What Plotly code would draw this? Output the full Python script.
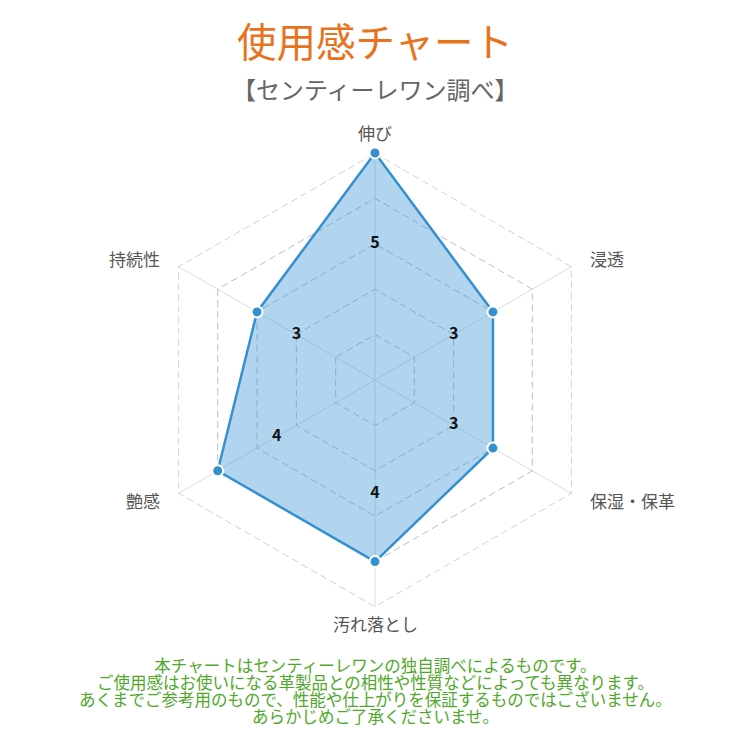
import math
import plotly.graph_objects as go

# 使用感チャート (radar)
categories = ["伸び", "浸透", "保湿・保革", "汚れ落とし", "艶感", "持続性"]
values = [5, 3, 3, 4, 4, 3]
levels = [1, 2, 3, 4, 5]

title_text = "使用感チャート"
subtitle_text = "【センティーレワン調べ】"
footer_lines = [
    "本チャートはセンティーレワンの独自調べによるものです。",
    "ご使用感はお使いになる革製品との相性や性質などによっても異なります。",
    "あくまでご参考用のもので、性能や仕上がりを保証するものではございません。",
    "あらかじめご了承くださいませ。",
]

jp_font = "Noto Sans CJK JP"
W = 750.0
cx, cy, rad = 367, 372, 227   # polar centre / radius in px (page has 8px body offset)

theta = categories + categories[:1]
r = values + values[:1]

fig = go.Figure()
# outer dashed hexagon (plotly skips the gridline at the range edge)
fig.add_trace(go.Scatterpolar(
    r=[levels[-1]] * len(theta), theta=theta, mode="lines",
    line=dict(color="#bdbdbd", width=1.3, dash="7px,4px"),
    cliponaxis=False, hoverinfo="skip", showlegend=False,
))
fig.add_trace(go.Scatterpolar(
    r=r, theta=theta, mode="lines", fill="toself",
    fillcolor="rgba(60,150,215,0.40)",
    line=dict(color="#3590d0", width=2.5),
    hoverinfo="skip", showlegend=False,
))
fig.add_trace(go.Scatterpolar(
    r=values, theta=categories, mode="markers",
    marker=dict(size=11, color="#3590d0", line=dict(color="white", width=2)),
    cliponaxis=False, showlegend=False,
))
# value labels placed part-way along each spoke
fig.add_trace(go.Scatterpolar(
    r=[(v + 1) / 2 for v in values], theta=categories, mode="text",
    text=[str(v) for v in values],
    textfont=dict(size=16, color="#111111", family=jp_font, weight=600),
    hoverinfo="skip", showlegend=False,
))

# axis labels around the hexagon
annos = []
n = len(categories)
for i, name in enumerate(categories):
    ang = math.radians(90 - 360 * i / n)
    vx = cx + rad * math.cos(ang)
    vy = cy - rad * math.sin(ang)
    if abs(math.cos(ang)) < 0.01:
        x, y, xa = vx, vy + (-20 if math.sin(ang) > 0 else 16), "center"
    else:
        x = vx + (16 if math.cos(ang) > 0 else -16)
        y = vy + (-8 if math.sin(ang) > 0 else 7)
        xa = "left" if math.cos(ang) > 0 else "right"
    annos.append(dict(text=name, x=x / W, y=1 - y / W, xref="paper", yref="paper",
                      xanchor=xa, yanchor="middle", showarrow=False,
                      font=dict(size=17, color="#555555", family=jp_font)))

# footer: small base size keeps line spacing tight, spans enlarge the glyphs
footer_html = "<br>".join('<span style="font-size:16.5px">%s</span>' % s for s in footer_lines)

annos += [
    dict(text=title_text, x=cx / W, y=1 - 32 / W, xref="paper", yref="paper",
         xanchor="center", yanchor="middle", showarrow=False,
         font=dict(size=39.5, color="#e8731e", family=jp_font)),
    dict(text=subtitle_text, x=cx / W, y=1 - 80 / W, xref="paper", yref="paper",
         xanchor="center", yanchor="middle", showarrow=False,
         font=dict(size=24, color="#666666", family=jp_font)),
    dict(text=footer_html, x=cx / W, y=1 - 682 / W, xref="paper", yref="paper",
         xanchor="center", yanchor="middle", showarrow=False, align="center",
         font=dict(size=13, color="#4fa82a", family=jp_font)),
]

fig.update_layout(
    width=750, height=750,
    margin=dict(l=0, r=0, t=0, b=0),
    paper_bgcolor="white",
    font=dict(family=jp_font),
    polar=dict(
        domain=dict(x=[(cx - rad) / W, (cx + rad) / W],
                    y=[1 - (cy + rad) / W, 1 - (cy - rad) / W]),
        bgcolor="white",
        gridshape="linear",
        radialaxis=dict(
            range=[0, 5], tickvals=levels, showticklabels=False, ticks="",
            showline=False, gridcolor="#bdbdbd", griddash="7px,4px", gridwidth=1.3,
        ),
        angularaxis=dict(
            rotation=90, direction="clockwise", showline=False,
            gridcolor="#dcdcdc", ticks="", showticklabels=False,
        ),
    ),
    annotations=annos,
)

fig.write_html("out.html")
